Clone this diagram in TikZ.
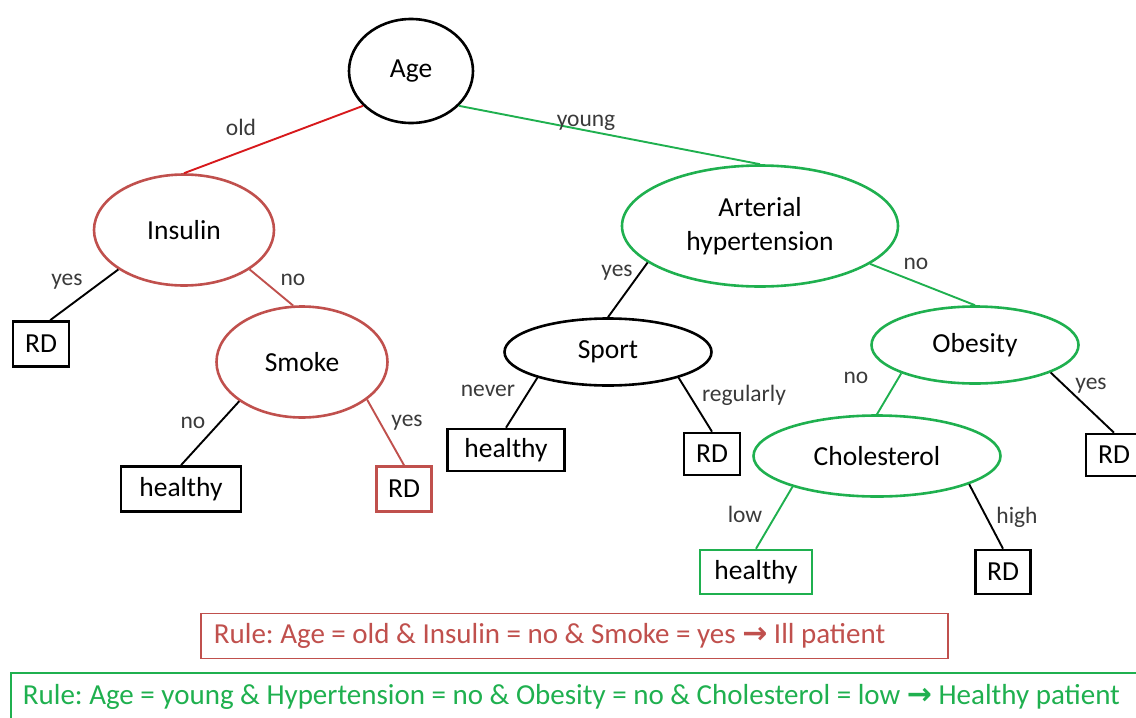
\documentclass[tikz,border=0pt]{standalone}
\usepackage{fontspec}
\setmainfont{Carlito}
\newfontfamily\arrowfont{DejaVu Sans}
\usetikzlibrary{shapes.geometric}
\definecolor{dtgreen}{HTML}{1FB04F}
\definecolor{dtred}{HTML}{C0504D}
\definecolor{oldred}{HTML}{D7191C}
\definecolor{lblgray}{HTML}{3A3A3A}
\frenchspacing

\begin{document}
\begin{tikzpicture}[x=1pt,y=-1pt,
  test/.style={ellipse, draw, line width=2.6pt, inner sep=0pt,
    font=\fontsize{27.5}{34}\selectfont},
  leaf/.style={rectangle, draw, line width=2.6pt, inner sep=0pt,
    font=\fontsize{27.5}{32}\selectfont},
  rulebox/.style={rectangle, draw, line width=1.8pt, inner ysep=0pt, anchor=west,
    align=flush left, font=\fontsize{29}{34}\selectfont},
  branch/.style={line width=1.9pt},
  lbl/.style={font=\fontsize{23.5}{28}\selectfont, text=lblgray, inner sep=0pt,
    text height=15pt, text depth=5pt}]
\useasboundingbox (0,0) rectangle (1136,718);
\clip (0,0) rectangle (1136,718);

% decision nodes
\node[test, minimum width=124pt, minimum height=104pt] (age) at (411,71) {Age};
\node[test, draw=dtred, minimum width=180pt, minimum height=111pt] (insulin) at (184,230) {Insulin};
\node[test, draw=dtgreen, minimum width=276pt, minimum height=121pt, align=center] (art) at (760,226) {Arterial\\hypertension};
\node[test, draw=dtred, minimum width=171pt, minimum height=111pt] (smoke) at (302,362) {Smoke};
\node[test, minimum width=207pt, minimum height=67pt] (sport) at (608,352) {Sport};
\node[test, draw=dtgreen, minimum width=207pt, minimum height=77pt] (obesity) at (975,345) {Obesity};
\node[test, draw=dtgreen, minimum width=247pt, minimum height=81pt] (chol) at (877,456) {Cholesterol};

% leaves
\node[leaf, minimum width=56pt, minimum height=45pt] (rd1) at (41,344) {RD};
\node[leaf, minimum width=120pt, minimum height=45pt] (h1) at (181,489) {healthy};
\node[leaf, draw=dtred, minimum width=55pt, minimum height=45pt] (rd2) at (404,489) {RD};
\node[leaf, minimum width=117pt, minimum height=42pt] (h2) at (506,450) {healthy};
\node[leaf, minimum width=56pt, minimum height=42pt] (rd3) at (712,454) {RD};
\node[leaf, minimum width=56pt, minimum height=42pt] (rd4) at (1114,455) {RD};
\node[leaf, draw=dtgreen, minimum width=112pt, minimum height=44pt] (h3) at (756,572) {healthy};
\node[leaf, minimum width=55pt, minimum height=44pt] (rd5) at (1003,572) {RD};

% branches
\draw[branch, oldred] (age.216) -- (insulin.north);
\draw[branch, dtgreen] (age.324) -- (art.north);
\draw[branch] (insulin.211) -- (rd1.69);
\draw[branch, dtred] (insulin.329) -- (smoke.99);
\draw[branch] (smoke.212) -- (h1.north);
\draw[branch, dtred] (smoke.330) -- (rd2.north);
\draw[branch] (art.198) -- (sport.north);
\draw[branch, dtgreen] (art.341) -- (obesity.north);
\draw[branch] (sport.200) -- (h2.north);
\draw[branch] (sport.340) -- (rd3.north);
\draw[branch, dtgreen] (obesity.201) -- (chol.north);
\draw[branch] (obesity.340) -- (rd4.north);
\draw[branch, dtgreen] (chol.200) -- (h3.north);
\draw[branch] (chol.343) -- (rd5.north);

% branch labels
\node[lbl] (l-old) at (241,130) {old};
\node[lbl] (l-young) at (586,121) {young};
\node[lbl] (l-ins-yes) at (67,280) {yes};
\node[lbl] (l-ins-no) at (293,280) {no};
\node[lbl] (l-smk-no) at (193,423) {no};
\node[lbl] (l-smk-yes) at (407,421) {yes};
\node[lbl] (l-art-yes) at (617,271) {yes};
\node[lbl] (l-art-no) at (916,264) {no};
\node[lbl] (l-never) at (488,391) {never};
\node[lbl] (l-regularly) at (744,396) {regularly};
\node[lbl] (l-obs-no) at (856,378) {no};
\node[lbl] (l-obs-yes) at (1091,384) {yes};
\node[lbl] (l-low) at (745,517) {low};
\node[lbl] (l-high) at (1017,518) {high};

% extracted rules
\node[rulebox, draw=dtred, text=dtred, text width=721pt, inner xsep=13pt,
  minimum height=45pt] (rule1) at (200,636)
  {Rule: Age = old \& Insulin = no \& Smoke = yes {\arrowfont\bfseries\fontsize{30}{34}\selectfont →} Ill patient};
\node[rulebox, draw=dtgreen, text=dtgreen, text width=1110pt, inner xsep=12pt,
  minimum height=48pt] (rule2) at (10,697)
  {Rule: Age = young \& Hypertension = no \& Obesity = no \& Cholesterol = low {\arrowfont\bfseries\fontsize{30}{34}\selectfont →} Healthy patient};
\end{tikzpicture}
\end{document}
